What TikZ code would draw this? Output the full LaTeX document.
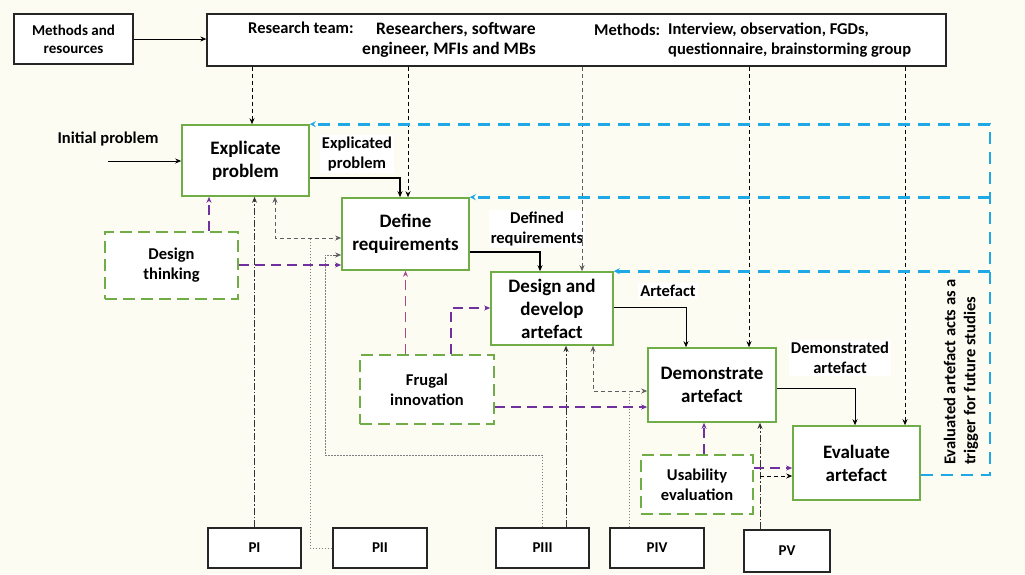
\documentclass[tikz,border=0pt]{standalone}
\usepackage{fontspec}
\setmainfont{Carlito}
\usetikzlibrary{arrows.meta,calc}
\definecolor{bgcol}{RGB}{252,252,243}
\definecolor{boxgreen}{RGB}{112,173,71}
\definecolor{fbblue}{RGB}{30,168,230}
\definecolor{dsrpurple}{RGB}{112,48,160}
\definecolor{dsrmag}{RGB}{165,75,140}
\definecolor{linegray}{RGB}{95,95,95}
\tikzset{
  stage/.style={draw=boxgreen, line width=1.6pt, fill=white, inner sep=0pt, align=center, font=\fontsize{19}{23}\selectfont\bfseries},
  aid/.style={draw=boxgreen, line width=1.6pt, dash pattern=on 12pt off 6pt, fill=white, inner sep=0pt, align=center, font=\fontsize{16.5}{20}\selectfont\bfseries},
  plainbox/.style={draw=black!85, line width=1.3pt, fill=white, inner sep=0pt, align=center, font=\fontsize{15}{18}\selectfont\bfseries},
  lbl/.style={fill=white, inner sep=2pt, align=center, font=\fontsize{16.5}{20}\selectfont\bfseries},
  txt/.style={inner sep=0pt, font=\fontsize{16.5}{20}\selectfont\bfseries},
  flow/.style={->, line width=1.1pt},
  rdash/.style={->, line width=0.8pt, dash pattern=on 4pt off 3pt},
  gdash/.style={line width=0.9pt, draw=linegray, dash pattern=on 4pt off 3pt},
  dotl/.style={line width=0.8pt, draw=linegray!80, dash pattern=on 1.5pt off 1.5pt},
  pdash/.style={line width=0.9pt, draw=black!80, dash pattern=on 7pt off 2pt on 1.5pt off 2pt},
  pur/.style={->, draw=dsrpurple, line width=1.6pt, dash pattern=on 10pt off 6pt},
  fb/.style={draw=fbblue, line width=2.6pt, dash pattern=on 12pt off 8pt, >={Stealth[length=6pt,width=6pt]}}
}
\begin{document}
\begin{tikzpicture}[x=1pt, y=-1pt, >={Stealth[length=6pt,width=5pt]}]
  \useasboundingbox (0,0) rectangle (1025,574);
  \fill[bgcol] (0,0) rectangle (1025,574);

  % top row
  \node[plainbox, minimum width=119, minimum height=50] (mr) at (73.5,39) {Methods and\\resources};
  \node[plainbox, minimum width=739, minimum height=52] (team) at (576.5,40) {};
  \node[txt, anchor=west] (teamhead) at (248,28) {Research team:};
  \node[txt, align=right, anchor=west, font=\fontsize{17.5}{20}\selectfont\bfseries] (teamlist) at (362,40) {Researchers, software\\engineer, MFIs and MBs};
  \node[txt, anchor=west] (methhead) at (594,30) {Methods:};
  \node[txt, align=left, anchor=west] (methlist) at (668,40) {Interview, observation, FGDs,\\questionnaire, brainstorming group};
  \draw[->, line width=0.8pt] (mr.east) -- (mr.east -| team.west);

  % DSR stages
  \node[stage, minimum width=127, minimum height=71] (explicate) at (245.5,160.5) {Explicate\\problem};
  \node[stage, minimum width=127, minimum height=72] (define) at (405.5,234) {Define\\requirements};
  \node[stage, minimum width=122, minimum height=73] (design) at (552,308.5) {Design and\\develop\\artefact};
  \node[stage, minimum width=128, minimum height=74] (demo) at (712,385) {Demonstrate\\artefact};
  \node[stage, minimum width=127, minimum height=74] (evaluate) at (856.5,463) {Evaluate\\artefact};

  % supporting approaches
  \node[aid, minimum width=133, minimum height=67] (thinking) at (171.5,265.5) {Design\\thinking};
  \node[aid, minimum width=134, minimum height=69] (frugal) at (427,389.5) {Frugal\\innovation};
  \node[aid, minimum width=112, minimum height=59] (usability) at (697,484.5) {Usability\\evaluation};

  % papers
  \node[plainbox, minimum width=93, minimum height=40] (p1) at (254.5,548) {PI};
  \node[plainbox, minimum width=94, minimum height=40] (p2) at (380,548) {PII};
  \node[plainbox, minimum width=93, minimum height=40] (p3) at (542.5,548) {PIII};
  \node[plainbox, minimum width=94, minimum height=40] (p4) at (657,548) {PIV};
  \node[plainbox, minimum width=86, minimum height=42] (p5) at (787,551) {PV};

  % labels
  \node[txt] (init) at (108,139) {Initial problem};
  \node[lbl] (explicated) at (357,154) {Explicated\\problem};
  \node[lbl] (defined) at (537,229) {Defined\\requirements};
  \node[lbl] (artefact) at (668,291) {Artefact};
  \node[lbl] (demonstrated) at (840,358) {Demonstrated\\artefact};
  \node[txt, rotate=90, align=left] (trigger) at (961,372) {Evaluated artefact acts as a\\trigger for future studies};

  % guide points
  \coordinate (initstart) at (108,161);
  \coordinate (ep) at (400,178);
  \coordinate (dr) at (540,252);
  \coordinate (ar) at (686,307);
  \coordinate (da) at (855,388);
  \coordinate (r1) at (252,0);
  \coordinate (r2) at (408,0);
  \coordinate (m1) at (582,0);
  \coordinate (m2) at (749,0);
  \coordinate (m3) at (905,0);
  \coordinate (fbr) at (990,475);
  \coordinate (ed) at (275,238);
  \coordinate (p2x) at (310,0);
  \coordinate (p3a) at (325,455);
  \coordinate (p3b) at (325,255);
  \coordinate (p3m) at (333,255);
  \coordinate (p3c) at (566,0);
  \coordinate (dd) at (593,391);
  \coordinate (p4x) at (629,0);
  \coordinate (tx) at (209,0);
  \coordinate (ty) at (0,265);
  \coordinate (fd) at (451,308);
  \coordinate (fm) at (0,407);
  \coordinate (ux) at (704,0);
  \coordinate (ue) at (0,468);
  \coordinate (p5x) at (760,0);
  \coordinate (pe) at (760,476);

  % main flow
  \draw[->, line width=0.8pt] (initstart) -- (explicate.west |- initstart);
  \draw[flow] (explicate.east |- ep) -| (define.north -| ep);
  \draw[flow] (define.east |- dr) -| (design.north -| dr);
  \draw[flow, line width=0.8pt] (design.east |- ar) -| (demo.north -| ar);
  \draw[flow, line width=0.8pt] (demo.east |- da) -| (evaluate.north -| da);

  % research team and methods
  \draw[rdash] (team.south -| r1) -- (explicate.north -| r1);
  \draw[rdash] (team.south -| r2) -- (define.north -| r2);
  \draw[rdash, draw=linegray, line width=1pt] (team.south -| m1) -- (design.north -| m1);
  \draw[rdash] (team.south -| m2) -- (demo.north -| m2);
  \draw[rdash] (team.south -| m3) -- (evaluate.north -| m3);

  % feedback
  \draw[fb, ->] (evaluate.east |- fbr) -- (fbr) |- (explicate.north east);
  \draw[fb, ->] (fbr |- define.north east) -- (define.north east);
  \draw[fb, ->] (fbr |- design.north east) -- (design.north east);

  % papers
  \draw[pdash, ->] (p1.north) -- (p1.north |- explicate.south);
  \draw[gdash, <->] (explicate.south -| ed) |- (define.west |- ed);
  \draw[dotl] (p2.west) -| (p2x |- ed);
  \draw[dotl] (p3.north) |- (p3a) -- (p3b) -- (p3m);
  \draw[gdash, ->] (p3m) -- (define.west |- p3m);
  \draw[pdash, ->] (p3.north -| p3c) -- (design.south -| p3c);
  \draw[gdash, <->] (design.south -| dd) |- (demo.west |- dd);
  \draw[dotl] (p4.north -| p4x) -- (p4x |- dd);
  \draw[pdash, ->] (p5.north -| p5x) -- (demo.south -| p5x);
  \draw[gdash, draw=black, ->] (pe) -- (evaluate.west |- pe);

  % supporting approaches
  \draw[pur] (thinking.north -| tx) -- (explicate.south -| tx);
  \draw[pur] (thinking.east |- ty) -- (define.west |- ty);
  \draw[pur, draw=dsrmag] (frugal.north -| define.south) -- (define.south);
  \draw[pur] (frugal.north -| fd) |- (design.west |- fd);
  \draw[pur] (frugal.east |- fm) -- (demo.west |- fm);
  \draw[pur] (usability.north -| ux) -- (demo.south -| ux);
  \draw[pur] (usability.east |- ue) -- (evaluate.west |- ue);
\end{tikzpicture}
\end{document}
